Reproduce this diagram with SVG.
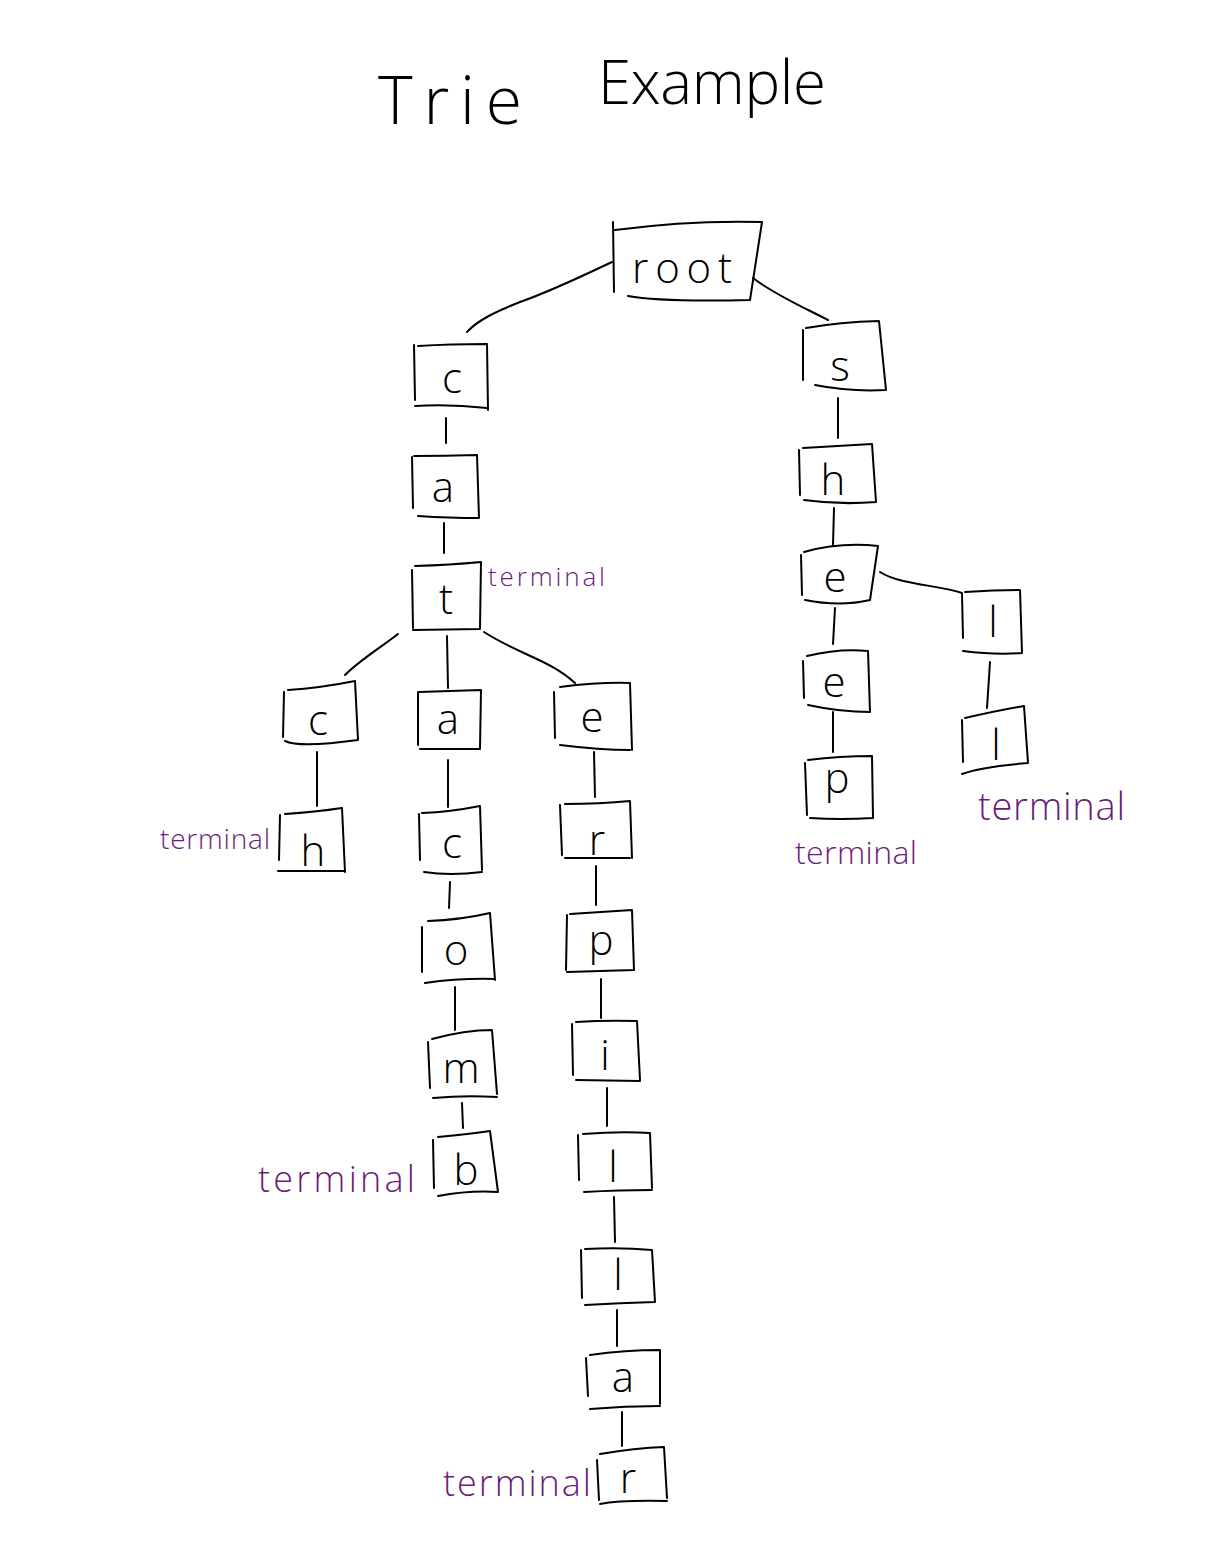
<svg xmlns="http://www.w3.org/2000/svg" width="1226" height="1552" viewBox="0 0 1226 1552">
<style>
.bx{fill:none;stroke:#000;stroke-width:2;stroke-linecap:round;stroke-linejoin:round}
.ln{fill:none;stroke:#000;stroke-width:2;stroke-linecap:round}
.lt{font-family:"Open Sans","Noto Sans","Liberation Sans",sans-serif;font-weight:300;font-size:42px;fill:#000;text-anchor:middle}
.tt{font-family:"Open Sans","Noto Sans","Liberation Sans",sans-serif;font-weight:300;fill:#000}
.tm{font-family:"Open Sans","Noto Sans","Liberation Sans",sans-serif;font-weight:300;fill:#6a1e7a}
</style>
<rect width="1226" height="1552" fill="#fff"/>
<g id="title">
<text class="tt" x="378" y="124" font-size="66" textLength="144" lengthAdjust="spacing">Trie</text>
<text class="tt" x="598" y="104" font-size="60" textLength="228" lengthAdjust="spacing">Example</text>
</g>
<g id="connectors">
<path class="ln" d="M612 262 C570 282 540 295 520 302 C495 312 478 320 467 332"/>
<path class="ln" d="M753 278 C775 295 805 308 828 320"/>
<path class="ln" d="M446 418 L446 443"/>
<path class="ln" d="M444 523 L444 553"/>
<path class="ln" d="M398 634 C380 648 360 660 345 675"/>
<path class="ln" d="M447 636 L448 688"/>
<path class="ln" d="M484 632 C520 655 550 660 575 683"/>
<path class="ln" d="M317 752 L317 806"/>
<path class="ln" d="M448 760 L448 807"/>
<path class="ln" d="M450 882 L449 908"/>
<path class="ln" d="M455 987 L455 1030"/>
<path class="ln" d="M462 1103 L463 1128"/>
<path class="ln" d="M594 752 L595 797"/>
<path class="ln" d="M596 866 L596 905"/>
<path class="ln" d="M601 979 L601 1018"/>
<path class="ln" d="M607 1088 L607 1126"/>
<path class="ln" d="M614 1197 L615 1242"/>
<path class="ln" d="M617 1310 L617 1346"/>
<path class="ln" d="M622 1412 L622 1446"/>
<path class="ln" d="M838 398 L838 438"/>
<path class="ln" d="M834 508 L833 545"/>
<path class="ln" d="M880 572 C900 585 940 585 962 593"/>
<path class="ln" d="M835 608 L833 644"/>
<path class="ln" d="M833 712 L833 752"/>
<path class="ln" d="M990 662 L987 708"/>
</g>
<g id="n-root"><path class="bx" d="M613 222 L614 292 M615 230 Q690 220 762 222 L750 300 M628 296 Q660 302 750 300"/><text class="lt" x="682" y="283" font-size="50" textLength="100" lengthAdjust="spacing">root</text></g>
<g id="n-c"><path class="bx" d="M414 345 L415 400 M418 346 Q450 344 487 344 L488 410 M415 406 Q450 404 487 408"/><text class="lt" x="452" y="393">c</text></g>
<g id="n-ca"><path class="bx" d="M412 457 L413 508 M414 456 Q445 456 477 455 L479 518 M418 516 Q450 518 478 518"/><text class="lt" x="443" y="502">a</text></g>
<g id="n-cat"><path class="bx" d="M412 570 L413 628 M415 566 Q450 565 481 562 L480 628 M413 630 L480 629"/><text class="lt" x="446" y="614">t</text></g>
<g id="n-catc"><path class="bx" d="M284 692 L283 737 M288 690 Q320 688 355 681 L358 740 M285 741 Q300 748 358 740"/><text class="lt" x="318" y="735">c</text></g>
<g id="n-catch"><path class="bx" d="M280 815 L279 860 M285 814 Q315 812 342 808 L345 872 M278 871 L345 871"/><text class="lt" x="313" y="866">h</text></g>
<g id="n-cata"><path class="bx" d="M418 692 L418 745 M419 692 L481 690 L480 748 M420 749 L480 749"/><text class="lt" x="448" y="734">a</text></g>
<g id="n-catac"><path class="bx" d="M419 814 L420 860 M422 813 Q450 812 480 806 L482 870 M424 872 Q450 876 482 872"/><text class="lt" x="452" y="858">c</text></g>
<g id="n-catco"><path class="bx" d="M422 927 L422 972 M428 921 Q460 920 490 913 L495 980 M425 983 Q460 978 495 979"/><text class="lt" x="456" y="965">o</text></g>
<g id="n-catcom"><path class="bx" d="M428 1042 L430 1088 M432 1039 Q465 1030 492 1030 L497 1094 M433 1098 Q465 1095 497 1097"/><text class="lt" x="461" y="1083">m</text></g>
<g id="n-catcomb"><path class="bx" d="M433 1140 L434 1188 M438 1137 Q470 1134 490 1131 L498 1192 M438 1196 Q470 1190 498 1192"/><text class="lt" x="466" y="1185">b</text></g>
<g id="n-cate"><path class="bx" d="M554 692 L555 738 M560 687 Q600 682 630 683 L632 750 M560 745 Q600 750 630 750"/><text class="lt" x="592" y="732">e</text></g>
<g id="n-cater"><path class="bx" d="M560 805 L562 855 M565 804 Q600 804 630 801 L632 858 M565 858 L630 858"/><text class="lt" x="597" y="855">r</text></g>
<g id="n-caterp"><path class="bx" d="M567 915 L566 970 M570 914 Q600 912 632 910 L634 970 M567 972 L634 970"/><text class="lt" x="601" y="955">p</text></g>
<g id="n-caterpi"><path class="bx" d="M572 1024 L573 1075 M576 1022 Q605 1020 637 1021 L640 1080 M576 1080 L640 1081"/><text class="lt" x="605" y="1070">i</text></g>
<g id="n-caterpil"><path class="bx" d="M578 1135 L579 1180 M583 1134 Q620 1131 650 1133 L652 1188 M584 1192 Q620 1190 652 1190"/><text class="lt" x="613" y="1182">l</text></g>
<g id="n-caterpill"><path class="bx" d="M581 1250 L582 1298 M585 1249 Q620 1247 652 1250 L655 1302 M585 1305 Q620 1303 655 1302"/><text class="lt" x="618" y="1290">l</text></g>
<g id="n-caterpilla"><path class="bx" d="M586 1358 L588 1396 M590 1355 Q625 1350 660 1350 L660 1404 M590 1409 Q625 1406 660 1406"/><text class="lt" x="623" y="1392">a</text></g>
<g id="n-caterpillar"><path class="bx" d="M597 1460 L599 1500 M600 1454 Q635 1448 664 1447 L667 1498 M600 1504 Q620 1500 667 1501"/><text class="lt" x="628" y="1493">r</text></g>
<g id="n-s"><path class="bx" d="M803 330 L803 380 M806 328 Q840 322 879 321 L886 390 M815 385 Q850 392 886 390"/><text class="lt" x="840" y="381">s</text></g>
<g id="n-sh"><path class="bx" d="M799 450 L800 495 M803 448 Q835 446 872 444 L876 502 M804 500 Q840 505 876 502"/><text class="lt" x="833" y="495">h</text></g>
<g id="n-she"><path class="bx" d="M801 555 L802 595 M804 552 Q840 542 878 546 L870 600 M805 600 Q840 607 870 600"/><text class="lt" x="835" y="592">e</text></g>
<g id="n-shee"><path class="bx" d="M803 661 L804 698 M807 656 Q840 648 868 651 L870 712 M808 705 Q840 712 870 712"/><text class="lt" x="834" y="697">e</text></g>
<g id="n-sheep"><path class="bx" d="M805 763 L807 815 M808 760 Q840 756 872 756 L873 818 M810 818 Q840 820 873 818"/><text class="lt" x="837" y="793">p</text></g>
<g id="n-shel"><path class="bx" d="M962 594 L963 638 M965 592 Q995 590 1020 590 L1022 653 M963 651 Q995 655 1022 653"/><text class="lt" x="993" y="637">l</text></g>
<g id="n-shell"><path class="bx" d="M962 720 L963 762 M965 718 Q1000 710 1024 706 L1028 763 M962 774 Q980 767 1028 763"/><text class="lt" x="996" y="760">l</text></g>
<g id="terminals">
<text class="tm" x="488" y="586" font-size="26" textLength="117" lengthAdjust="spacing">terminal</text>
<text class="tm" x="160" y="849" font-size="28" textLength="110" lengthAdjust="spacing">terminal</text>
<text class="tm" x="258" y="1192" font-size="36" textLength="157" lengthAdjust="spacing">terminal</text>
<text class="tm" x="443" y="1496" font-size="36" textLength="148" lengthAdjust="spacing">terminal</text>
<text class="tm" x="795" y="864" font-size="32" textLength="122" lengthAdjust="spacing">terminal</text>
<text class="tm" x="978" y="820" font-size="38" textLength="147" lengthAdjust="spacing">terminal</text>
</g>
</svg>
